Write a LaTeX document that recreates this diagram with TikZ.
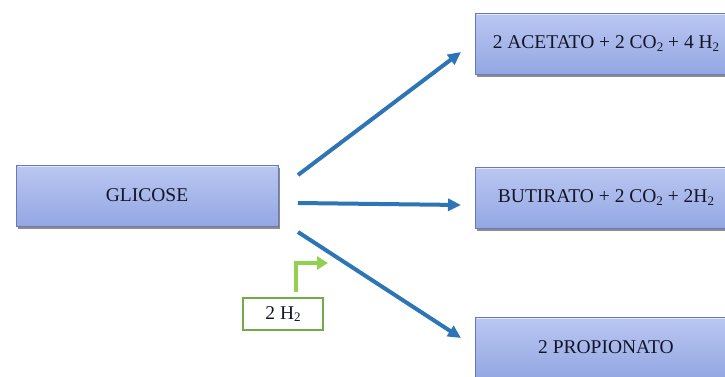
\documentclass[tikz,border=0pt]{standalone}
\usepackage{fontspec}
\setmainfont{Liberation Serif}
\usetikzlibrary{arrows.meta,shadows}
\definecolor{boxtop}{RGB}{186,199,241}
\definecolor{boxbot}{RGB}{148,167,227}
\definecolor{boxline}{RGB}{105,120,185}
\definecolor{boxtext}{RGB}{20,22,40}
\definecolor{arrowblue}{RGB}{46,117,182}
\definecolor{greenarr}{RGB}{146,208,80}
\definecolor{greenline}{RGB}{112,173,71}
\newcommand{\subtwo}{\raisebox{-0.28ex}{\fontsize{13}{14}\selectfont 2}}
\tikzset{
  procbox/.style={draw=boxline, line width=0.9pt, top color=boxtop, bottom color=boxbot,
    minimum width=262pt, minimum height=61pt, inner sep=0pt, text=boxtext,
    font=\fontsize{19.5}{22}\selectfont,
    drop shadow={shadow xshift=1.5pt, shadow yshift=-3pt, opacity=0.6, fill=black!75}},
  flow/.style={draw=arrowblue, line width=4pt, -{Triangle[length=13pt,width=12pt]}},
  hbox/.style={draw=greenline, line width=1.6pt, fill=white, minimum width=80pt,
    minimum height=32pt, inner sep=0pt, text=boxtext, font=\fontsize{19.5}{22}\selectfont},
  hflow/.style={draw=greenarr, line width=4.5pt, -{Triangle[length=11pt,width=13pt]}},
  bevel/.style={draw=white, opacity=0.6, line width=1pt}
}
\begin{document}
\begin{tikzpicture}[x=1pt,y=-1pt]
\useasboundingbox (0,0) rectangle (725,376);
\clip (0,0) rectangle (725,376);
\node[procbox] (glic) at (147,195.5) {GLICOSE};
\node[procbox] (acet) at (606,43.5) {2 ACETATO + 2 CO\subtwo{} + 4 H\subtwo};
\node[procbox] (but) at (606,197.5) {BUTIRATO + 2 CO\subtwo{} + 2H\subtwo};
\node[procbox] (prop) at (606,347.5) {2 PROPIONATO};
\foreach \b in {glic,acet,but,prop}{
  \draw[bevel] ([shift={(2pt,-2pt)}]\b.north west) -- ([shift={(-2pt,-2pt)}]\b.north east);
}
\node[hbox] (h2) at (283,314) {2 H\subtwo};
\coordinate (s1) at (298,175);
\coordinate (e1) at (461,52);
\coordinate (s2) at (298,203);
\coordinate (e2) at (461,205);
\coordinate (s3) at (298,232);
\coordinate (e3) at (461,338);
\coordinate (g0) at (296,292);
\coordinate (g1) at (296,263);
\coordinate (g2) at (328,263);
\draw[flow] (s1) -- (e1);
\draw[flow] (s2) -- (e2);
\draw[flow] (s3) -- (e3);
\draw[hflow] (g0) -- (g1) -- (g2);
\end{tikzpicture}
\end{document}
